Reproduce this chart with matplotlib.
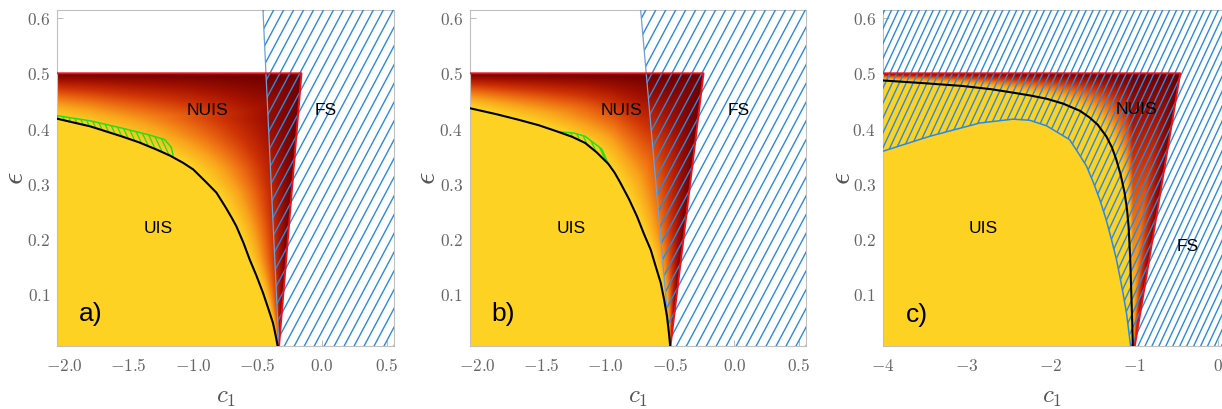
import numpy as np
import matplotlib
matplotlib.use('Agg')
import matplotlib.pyplot as plt
from matplotlib.patches import Polygon
from matplotlib.collections import LineCollection
from matplotlib.colors import LinearSegmentedColormap

plt.rcParams['mathtext.fontset'] = 'cm'

# ---- data ----
# panel a)
a_curve_c1 = [-2.06, -1.80, -1.557, -1.42, -1.285, -1.18, -1.079, -1.0, -0.9, -0.82, -0.75, -0.70,
              -0.665, -0.61, -0.562, -0.51, -0.459, -0.42, -0.381, -0.36, -0.343]
a_curve_eps = [0.418, 0.404, 0.386, 0.375, 0.362, 0.351, 0.338, 0.326, 0.303, 0.284, 0.258, 0.238,
               0.223, 0.193, 0.163, 0.134, 0.103, 0.076, 0.048, 0.025, 0.004]
a_green_c1 = [-2.06, -1.80, -1.557, -1.35, -1.221, -1.17, -1.157]
a_green_eps = [0.4235, 0.414, 0.401, 0.389, 0.380, 0.366, 0.352]
a_red_c1 = [-0.335, -0.16]
a_red_eps = [0.004, 0.5]
a_blue_c1 = [-0.46, -0.335]
a_blue_eps = [0.62, 0.004]

# panel b)
b_curve_c1 = [-2.06, -1.85, -1.679, -1.52, -1.368, -1.26, -1.16, -1.07, -0.979, -0.93, -0.886, -0.82,
              -0.756, -0.70, -0.65, -0.61, -0.572, -0.545, -0.523, -0.508, -0.497]
b_curve_eps = [0.437, 0.426, 0.416, 0.406, 0.394, 0.385, 0.374, 0.357, 0.336, 0.320, 0.302, 0.273,
               0.241, 0.208, 0.181, 0.150, 0.121, 0.090, 0.060, 0.030, 0.004]
b_green_c1 = [-1.368, -1.25, -1.16, -1.031, -0.979]
b_green_eps = [0.394, 0.392, 0.386, 0.363, 0.336]
b_red_c1 = [-0.497, -0.239]
b_red_eps = [0.004, 0.5]
b_blue_c1 = [-0.73, -0.497]
b_blue_eps = [0.62, 0.004]

# panel c)
c_curve_c1 = [-4.0, -3.5, -3.046, -2.7, -2.45, -2.25, -2.05, -1.85, -1.65, -1.536, -1.44, -1.337,
              -1.27, -1.218, -1.165, -1.119, -1.09, -1.071, -1.051, -1.039, -1.028, -1.02]
c_curve_eps = [0.487, 0.482, 0.477, 0.471, 0.465, 0.460, 0.454, 0.445, 0.432, 0.420, 0.407, 0.386,
               0.366, 0.344, 0.316, 0.284, 0.254, 0.223, 0.163, 0.103, 0.050, 0.004]
c_blue_c1 = [-4.0, -3.443, -2.847, -2.45, -2.25, -2.05, -1.775, -1.68, -1.573, -1.49, -1.414,
             -1.34, -1.275, -1.22, -1.176, -1.135, -1.096, -1.07, -1.045]
c_blue_eps = [0.359, 0.386, 0.410, 0.417, 0.415, 0.405, 0.380, 0.358, 0.332, 0.302, 0.271,
              0.236, 0.199, 0.166, 0.133, 0.100, 0.066, 0.035, 0.004]
c_red_c1 = [-1.0, -0.455]
c_red_eps = [0.004, 0.5]

ab_xticks = [-2.0, -1.5, -1.0, -0.5, 0.0, 0.5]
c_xticks = [-4, -3, -2, -1, 0]
yticks = [0.1, 0.2, 0.3, 0.4, 0.5, 0.6]

W_PX, H_PX = 1222, 409
YLIM = (0.0065, 0.614)
TOP = 0.5
YELLOW = '#fdd223'
BLUE = '#2a8ae2'
RED = '#e8141c'
GREEN = '#22e01a'

cmap = LinearSegmentedColormap.from_list('nuis', [
    (0.0, '#fdd223'), (0.2, '#f9a41c'), (0.4, '#ec6a12'),
    (0.6, '#cf3406'), (0.8, '#a51200'), (1.0, '#6e0000')])


def hatch(ax, xs, ys, step, ang, color, lw, z):
    poly = Polygon(np.column_stack([xs, ys]), closed=True, fc='none', ec='none',
                   transform=ax.transData)
    ax.add_patch(poly)
    pos = ax.get_position()
    w = pos.width * W_PX
    h = pos.height * H_PX
    a = np.radians(ang)
    d = np.array([np.cos(a), np.sin(a)])
    n = np.array([-np.sin(a), np.cos(a)])
    corners = np.array([[0, 0], [w, 0], [0, h], [w, h]])
    p = corners @ n
    L = np.hypot(w, h)
    cb = np.array([w / 2, h / 2]) @ d
    segs = []
    for o in np.arange(p.min(), p.max() + step, step):
        c = n * o + d * cb
        segs.append([(c - d * L) / [w, h], (c + d * L) / [w, h]])
    lc = LineCollection(segs, colors=color, linewidths=lw, transform=ax.transAxes, zorder=z)
    ax.add_collection(lc, autolim=False)
    lc.set_clip_path(poly)
    lc.set_clip_box(ax.bbox)


def shade(xx, yy, cc1, ceps, rc1, reps, xmin):
    cc1 = np.array(cc1)
    ceps = np.array(ceps)
    g = np.interp(xx, cc1, ceps, right=0.0)
    vv = np.clip((yy - g) / (TOP - g), 0, 1)
    o = np.argsort(ceps)
    cx = np.interp(yy, ceps[o], cc1[o], right=xmin)
    rx = rc1[0] + (yy - reps[0]) * (rc1[1] - rc1[0]) / (reps[1] - reps[0])
    vh = np.clip((xx - cx) / (rx - cx), 0, 1)
    return np.maximum(vv, vh) ** 1.3


def base(ax, xlim, xticks, fmt, ylab_x):
    ax.set_xlim(*xlim)
    ax.set_ylim(*YLIM)
    ax.set_xticks(xticks)
    ax.set_xticklabels([fmt % t for t in xticks])
    ax.set_yticks(yticks)
    ax.set_yticklabels(['$%.1f$' % t for t in yticks])
    ax.tick_params(direction='in', length=4, width=0.6, color='#b0b0b0',
                   labelcolor='#666666', labelsize=12.5, pad=5)
    ax.tick_params(axis='x', pad=8)
    for s in ax.spines.values():
        s.set_color('#c0c0c0')
        s.set_linewidth(0.8)
    ax.set_xlabel('$c_1$', fontsize=18, color='#555555', va='center')
    ax.xaxis.set_label_coords(0.5, -0.152)
    ax.set_ylabel(r'$\epsilon$', fontsize=22, color='#555555', va='center')
    ax.yaxis.set_label_coords(ylab_x, 0.5)


def nuis(ax, xlim, cc1, ceps, rc1, reps):
    xmin = xlim[0]
    verts = [(xmin - 0.05, TOP), (rc1[1], reps[1]), (rc1[0], reps[0])]
    verts += list(zip(cc1[::-1], ceps[::-1]))
    verts += [(xmin - 0.05, ceps[0])]
    poly = Polygon(verts, closed=True, fc='none', ec='none', transform=ax.transData)
    ax.add_patch(poly)
    xs = np.linspace(xlim[0], xlim[1], 500)
    ys = np.linspace(0, TOP, 500)
    xx, yy = np.meshgrid(xs, ys)
    v = shade(xx, yy, cc1, ceps, rc1, reps, xmin)
    im = ax.imshow(v, extent=(xlim[0], xlim[1], 0, TOP), origin='lower', cmap=cmap,
                   vmin=0, vmax=1, aspect='auto', interpolation='bilinear', zorder=1)
    im.set_clip_path(poly)
    # yellow UIS
    uis = list(zip(cc1, ceps)) + [(cc1[-1], -0.1), (xmin - 0.1, -0.1), (xmin - 0.1, ceps[0])]
    ax.add_patch(Polygon(uis, closed=True, fc=YELLOW, ec='none', zorder=2))
    # red outline
    ax.plot([xmin - 0.05, rc1[1], rc1[0]], [TOP, reps[1], reps[0]], color=RED, lw=1.4, zorder=6)
    ax.plot(cc1, ceps, color='black', lw=1.5, zorder=7)


def labels(ax, xs, ys, texts, sizes):
    for x, y, t, s in zip(xs, ys, texts, sizes):
        ax.text(x, y, t, fontsize=s, family='Liberation Sans', ha='center', va='center',
                color='black', zorder=8)


fig = plt.figure(figsize=(12.22, 4.09), dpi=100)
axa = fig.add_axes([57.3 / W_PX, 63 / H_PX, 336.7 / W_PX, 335.7 / H_PX])
axb = fig.add_axes([470 / W_PX, 63 / H_PX, 336 / W_PX, 335.7 / H_PX])
axc = fig.add_axes([883 / W_PX, 63 / H_PX, 338.5 / W_PX, 335.7 / H_PX])

ab_xlim = (-2.055, 0.558)
c_xlim = (-4.0, 0.037)

# panels a and b
for ax, cc1, ceps, gc1, geps, rc1, reps, bc1, beps, ylx in [
        (axa, a_curve_c1, a_curve_eps, a_green_c1, a_green_eps, a_red_c1, a_red_eps, a_blue_c1, a_blue_eps, -0.128),
        (axb, b_curve_c1, b_curve_eps, b_green_c1, b_green_eps, b_red_c1, b_red_eps, b_blue_c1, b_blue_eps, -0.128)]:
    base(ax, ab_xlim, ab_xticks, '$%.1f$', ylx)
    nuis(ax, ab_xlim, cc1, ceps, rc1, reps)
    # green sliver between green curve and black curve
    gx = np.array(gc1)
    gcurve = np.interp(gx[::-1], cc1, ceps)
    gpoly_x = list(gx) + list(gx[::-1])
    gpoly_y = list(geps) + list(gcurve)
    hatch(ax, gpoly_x, gpoly_y, 5, 115, GREEN, 0.9, 3)
    ax.plot(gc1, geps, color=GREEN, lw=1.1, zorder=3)
    # FS hatched region
    fx = [bc1[0], bc1[1], bc1[1], 1.0, 1.0]
    fy = [beps[0], beps[1], -0.1, -0.1, 0.7]
    hatch(ax, fx, fy, 8.8, 62, BLUE, 1.0, 4)
    ax.plot(bc1, beps, color='#6e9fd6', lw=0.9, zorder=4)

labels(axa, [-0.888, 0.027, -1.275, -1.797], [0.433, 0.433, 0.22, 0.065],
       ['NUIS', 'FS', 'UIS', 'a)'], [12.5, 12.5, 12.5, 19])
labels(axb, [-0.878, 0.032, -1.267, -1.795], [0.433, 0.433, 0.22, 0.065],
       ['NUIS', 'FS', 'UIS', 'b)'], [12.5, 12.5, 12.5, 19])

# panel c
base(axc, c_xlim, c_xticks, '$%d$', -0.124)
nuis(axc, c_xlim, c_curve_c1, c_curve_eps, c_red_c1, c_red_eps)
fx = [-4.1] + c_blue_c1 + [c_blue_c1[-1], 1.0, 1.0, -4.1]
fy = [c_blue_eps[0]] + c_blue_eps + [-0.1, -0.1, 0.7, 0.7]
hatch(axc, fx, fy, 6.3, 65, BLUE, 1.0, 4)
axc.plot(c_blue_c1, c_blue_eps, color=BLUE, lw=1.1, zorder=4)
labels(axc, [-0.98, -0.368, -2.80, -3.60], [0.434, 0.186, 0.22, 0.063],
       ['NUIS', 'FS', 'UIS', 'c)'], [12.5, 12.5, 12.5, 19])

fig.savefig('out.png', dpi=100)
